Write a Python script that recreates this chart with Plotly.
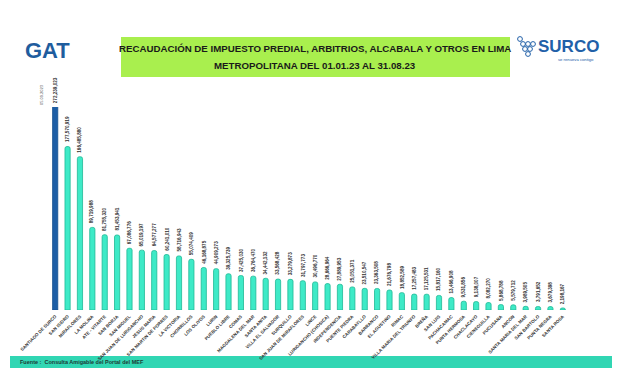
import plotly.graph_objects as go

# ---------------- data ----------------
districts = [
    "SANTIAGO DE SURCO", "SAN ISIDRO", "MIRAFLORES", "LA MOLINA", "ATE - VITARTE",
    "SAN BORJA", "SAN MIGUEL", "SAN JUAN DE LURIGANCHO", "JESUS MARIA",
    "SAN MARTIN DE PORRES", "LA VICTORIA", "CHORRILLOS", "LOS OLIVOS", "LURIN",
    "PUEBLO LIBRE", "COMAS", "MAGDALENA DEL MAR", "SANTA ANITA", "VILLA EL SALVADOR",
    "SURQUILLO", "SAN JUAN DE MIRAFLORES", "LINCE", "LURIGANCHO (CHOSICA)",
    "INDEPENDENCIA", "PUENTE PIEDRA", "CARABAYLLO", "BARRANCO", "EL AGUSTINO",
    "RIMAC", "VILLA MARIA DEL TRIUNFO", "BREÑA", "SAN LUIS", "PACHACAMAC",
    "PUNTA HERMOSA", "CHACLACAYO", "CIENEGUILLA", "PUCUSANA", "ANCON",
    "SANTA MARIA DEL MAR", "SAN BARTOLO", "PUNTA NEGRA", "SANTA ROSA",
]
recaudacion = [
    272239023, 177570919, 166485880, 89719988, 81755320,
    81453941, 67086776, 65019197, 64577277,
    60241010, 58716943, 55074409, 46168875, 44909273,
    39325739, 37425030, 36764470, 34442132, 33568428,
    33279873, 31797773, 30496770, 28666964,
    27889953, 25051371, 23510547, 23363508, 21676798,
    18852589, 17257483, 17125531, 15817160, 13466908,
    9531856, 9138007, 8082270, 5868788, 5579712,
    3989505, 3791652, 3679398, 2198167,
]
highlight = "SANTIAGO DE SURCO"
title_lines = ["RECAUDACIÓN DE IMPUESTO PREDIAL, ARBITRIOS, ALCABALA Y OTROS EN LIMA",
               "METROPOLITANA DEL 01.01.23 AL 31.08.23"]
source_text = "Fuente :  Consulta Amigable del Portal del MEF"

# ---------------- layout geometry ----------------
# the page body has an 8px default margin, so the figure starts at (8, 8)
OFF = 8
FW, FH = 620 - OFF, 371 - OFF
ML, MR, MT, MB = 49 - OFF, 51, 107 - OFF, 61
PW, PH = FW - ML - MR, FH - MT - MB
YMAX = 220_500_000


def px(x):  # page pixel -> paper
    return (x - OFF - ML) / PW


def py(y):  # page pixel -> paper
    return (FH - MB - (y - OFF)) / PH


fills = ["#1d5ea6" if d == highlight else "#3eeac7" for d in districts]
lines = ["#17508f" if d == highlight else "#1fb996" for d in districts]

fig = go.Figure(go.Bar(
    x=districts, y=recaudacion,
    marker=dict(color=fills, line=dict(color=lines, width=0.8), cornerradius=2),
    hoverinfo="x+y",
))

annotations = []
for d, v in zip(districts, recaudacion):
    annotations.append(dict(
        x=d, y=min(v, YMAX), xref="x", yref="y", text=f"{v:,}",
        textangle=-90, showarrow=False, yanchor="bottom", xanchor="center", yshift=2,
        font=dict(family="Liberation Sans", size=4.6, color="#333333", weight="bold"),
    ))

# header
annotations.append(dict(x=px(47), y=py(50), xref="paper", yref="paper", text="<b>GAT</b>",
                        showarrow=False, xanchor="center", yanchor="middle",
                        font=dict(family="Liberation Sans", size=22, color="#1f5d9e")))
for line_text, ly in zip(title_lines, [48, 66]):
    annotations.append(dict(x=px(315), y=py(ly), xref="paper", yref="paper",
                            text="<b>" + line_text + "</b>",
                            showarrow=False, xanchor="center", yanchor="middle",
                            font=dict(family="Liberation Sans", size=9.7, color="#1a1a1a")))
annotations.append(dict(x=px(568), y=py(47), xref="paper", yref="paper", text="<b>SURCO</b>",
                        showarrow=False, xanchor="center", yanchor="middle",
                        font=dict(family="Liberation Sans", size=17, color="#2160a8")))
annotations.append(dict(x=px(596), y=py(60), xref="paper", yref="paper", text="se renueva contigo",
                        showarrow=False, xanchor="right", yanchor="middle",
                        font=dict(family="Liberation Sans", size=4.2, color="#2160a8")))
annotations.append(dict(x=px(41), y=py(95), xref="paper", yref="paper", text="05.09.2023",
                        showarrow=False, textangle=-90, xanchor="center", yanchor="middle",
                        font=dict(family="Liberation Sans", size=4, color="#555555")))
annotations.append(dict(x=px(18), y=py(362), xref="paper", yref="paper", text="<b>" + source_text + "</b>",
                        showarrow=False, xanchor="left", yanchor="middle",
                        font=dict(family="Liberation Sans", size=5.5, color="#1d3b36")))

shapes = [
    # green title box
    dict(type="rect", xref="paper", yref="paper", x0=px(121), x1=px(510), y0=py(37), y1=py(77),
         fillcolor="#a9ef4e", line=dict(width=0), layer="below"),
    # footer band
    dict(type="rect", xref="paper", yref="paper", x0=px(10), x1=px(612), y0=py(356), y1=py(368),
         fillcolor="#31d6b3", line=dict(width=0), layer="below"),
    # right grey frame
    dict(type="rect", xref="paper", yref="paper", x0=px(613), x1=px(621), y0=py(0), y1=py(372),
         fillcolor="#e8e8e8", line=dict(width=0), layer="below"),
]
# grape icon
for cx, cy in [(523, 44), (528, 44), (533, 44), (525, 49), (530, 49), (528, 54), (520, 39)]:
    r = 2.4
    shapes.append(dict(type="circle", xref="paper", yref="paper",
                       x0=px(cx - r), x1=px(cx + r), y0=py(cy + r), y1=py(cy - r),
                       line=dict(color="#2160a8", width=1), fillcolor="white"))

fig.update_layout(
    width=FW, height=FH, autosize=False,
    margin=dict(l=ML, r=MR, t=MT, b=MB, pad=0),
    paper_bgcolor="white", plot_bgcolor="white",
    bargap=0.58, showlegend=False,
    annotations=annotations, shapes=shapes,
    xaxis=dict(tickangle=-45, showgrid=False, showline=False, zeroline=False, ticks="",
               automargin=False,
               tickfont=dict(family="Liberation Sans", size=4.5, color="#333333", weight="bold"),
               ticklabelstandoff=2),
    yaxis=dict(range=[0, YMAX], visible=False, showgrid=False, zeroline=False, automargin=False),
)

fig.write_html("out.html")
